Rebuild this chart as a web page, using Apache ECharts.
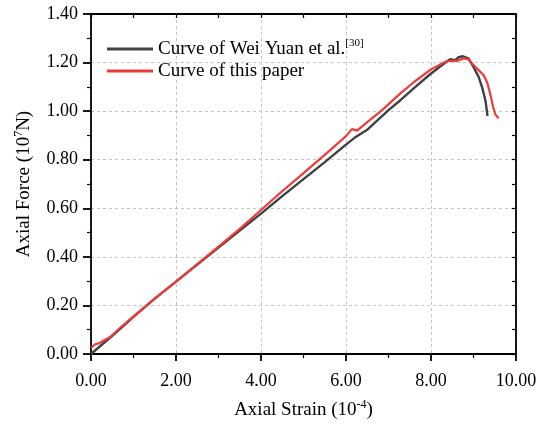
<!DOCTYPE html>
<html>
<head>
<meta charset="utf-8">
<script src="https://cdn.jsdelivr.net/npm/echarts@6/dist/echarts.min.js"></script>
<style>
  html, body { margin: 0; padding: 0; background: #fff; }
  #chart { width: 536px; height: 428px; }
</style>
</head>
<body>
<div id="chart"></div>
<script>
// Axial strain (10^-4) and axial force (10^7 N) for the two load–strain curves
const yuanStrain = [0, 0.5, 1.0, 1.5, 2.0, 2.5, 3.0, 3.5, 4.0, 4.5, 5.0, 5.5, 5.9, 6.0, 6.2, 6.49, 7.0, 7.28, 7.6, 8.0, 8.34, 8.45, 8.57, 8.65, 8.75, 8.88, 9.0, 9.12, 9.2, 9.28, 9.33];
const yuanForce  = [0, 0.075, 0.153, 0.228, 0.298, 0.368, 0.438, 0.508, 0.578, 0.650, 0.720, 0.790, 0.848, 0.862, 0.890, 0.922, 1.004, 1.045, 1.095, 1.155, 1.200, 1.214, 1.210, 1.222, 1.226, 1.217, 1.182, 1.141, 1.100, 1.045, 0.980];

const paperStrain = [0, 0.1, 0.2, 0.45, 0.7, 1.0, 1.5, 2.0, 2.5, 3.0, 3.5, 4.0, 4.45, 5.0, 5.5, 6.0, 6.14, 6.26, 6.5, 6.85, 7.28, 7.6, 8.0, 8.34, 8.45, 8.61, 8.77, 8.88, 9.0, 9.12, 9.24, 9.33, 9.4, 9.46, 9.51, 9.59];
const paperForce  = [0.025, 0.04, 0.045, 0.07, 0.11, 0.155, 0.228, 0.298, 0.370, 0.442, 0.515, 0.593, 0.663, 0.745, 0.820, 0.897, 0.926, 0.920, 0.955, 1.004, 1.073, 1.120, 1.172, 1.203, 1.207, 1.207, 1.217, 1.213, 1.190, 1.169, 1.148, 1.114, 1.066, 1.018, 0.988, 0.970];

const seriesNames = ['Curve of Wei Yuan et al.', 'Curve of this paper'];
const seriesColors = ['#414141', '#ef3a3a'];

const pairs = (xs, ys) => xs.map((x, i) => [x, ys[i]]);
const serif = 'Liberation Serif, Times New Roman, serif';
const gridLine = { show: true, lineStyle: { color: '#c4c4c4', type: [3, 3], width: 1 } };
const axisLine = { show: true, onZero: false, lineStyle: { color: '#000', width: 1.8 } };

// Rich text styles: normal text plus a raised, smaller superscript
const richText = (size, supSize, lift) => ({
  t: { fontFamily: serif, fontSize: size, color: '#000' },
  s: { fontFamily: serif, fontSize: supSize, color: '#000', padding: [0, 0, lift, 0] }
});

const chart = echarts.init(document.getElementById('chart'), null, { renderer: 'canvas' });
chart.setOption({
  animation: false,
  backgroundColor: '#fff',
  grid: { left: 91, right: 20, top: 14, bottom: 74, containLabel: false, outerBoundsMode: 'none' },
  legend: {
    orient: 'vertical',
    left: 102,
    top: 33,
    icon: 'rect',
    itemWidth: 46,
    itemHeight: 3,
    itemGap: 3,
    data: seriesNames,
    formatter: function (name) {
      return name === seriesNames[0] ? '{t|' + name + '}{s|[30]}' : '{t|' + name + '}';
    },
    textStyle: {
      fontFamily: serif,
      color: '#000',
      rich: richText(19, 11, 11)
    }
  },
  xAxis: [{
    type: 'value',
    min: 0, max: 10, interval: 2,
    position: 'bottom',
    name: '{t|Axial Strain (10}{s|-4}{t|)}',
    nameLocation: 'middle',
    nameGap: 45,
    nameTextStyle: { rich: richText(19, 12, 10) },
    axisLine: axisLine,
    axisTick: { show: true, inside: false, length: 7, lineStyle: { color: '#000', width: 1.8 } },
    minorTick: { show: true, splitNumber: 2, length: 4, lineStyle: { color: '#000', width: 1.2 } },
    axisLabel: { fontFamily: serif, fontSize: 18, color: '#000', margin: 18, formatter: v => v.toFixed(2) },
    splitLine: gridLine
  }, {
    type: 'value',
    min: 0, max: 10, interval: 1,
    position: 'top',
    axisLine: axisLine,
    axisTick: { show: true, inside: true, length: 4, lineStyle: { color: '#000', width: 1.2 } },
    axisLabel: { show: false },
    splitLine: { show: false }
  }],
  yAxis: [{
    type: 'value',
    min: 0, max: 1.4, interval: 0.2,
    position: 'left',
    name: '{t|Axial Force (10}{s|7}{t|N)}',
    nameLocation: 'middle',
    nameGap: 56,
    nameTextStyle: { rich: richText(19, 12, 10) },
    axisLine: axisLine,
    axisTick: { show: true, inside: false, length: 8, lineStyle: { color: '#000', width: 1.8 } },
    minorTick: { show: true, splitNumber: 2, length: 4, lineStyle: { color: '#000', width: 1.2 } },
    axisLabel: { fontFamily: serif, fontSize: 18, color: '#000', margin: 13, formatter: v => v.toFixed(2) },
    splitLine: gridLine
  }, {
    type: 'value',
    min: 0, max: 1.4, interval: 0.1,
    position: 'right',
    axisLine: axisLine,
    axisTick: { show: true, inside: true, length: 4, lineStyle: { color: '#000', width: 1.2 } },
    axisLabel: { show: false },
    splitLine: { show: false }
  }],
  series: [{
    name: seriesNames[0],
    type: 'line',
    xAxisIndex: 0, yAxisIndex: 0,
    symbol: 'none',
    data: pairs(yuanStrain, yuanForce),
    lineStyle: { color: seriesColors[0], width: 2.4 },
    itemStyle: { color: seriesColors[0] },
    z: 3
  }, {
    name: seriesNames[1],
    type: 'line',
    xAxisIndex: 0, yAxisIndex: 0,
    symbol: 'none',
    data: pairs(paperStrain, paperForce),
    lineStyle: { color: seriesColors[1], width: 2.2 },
    itemStyle: { color: seriesColors[1] },
    z: 4
  }]
});
</script>
</body>
</html>
